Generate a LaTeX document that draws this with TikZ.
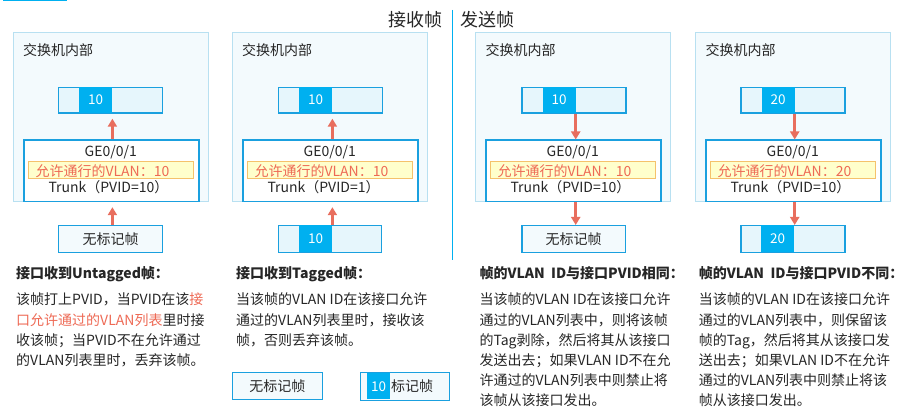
\documentclass[tikz,border=0pt]{standalone}
\usepackage{fontspec}
\setmainfont{Noto Sans CJK SC}
\usetikzlibrary{arrows.meta,calc}
\definecolor{panelfill}{HTML}{F3FAFD}
\definecolor{panelborder}{HTML}{B8E0F1}
\definecolor{blueb}{HTML}{1AA0DF}
\definecolor{framefill}{HTML}{E6F6FC}
\definecolor{tagblue}{HTML}{00B0F0}
\definecolor{arrred}{HTML}{E86E5E}
\definecolor{yelf}{HTML}{FFFFCC}
\definecolor{yelb}{HTML}{F5C26B}
\definecolor{redt}{HTML}{EE6A55}
\definecolor{txtc}{HTML}{262626}
\tikzset{
  panel/.style={draw=panelborder, fill=panelfill, line width=1pt, inner sep=0pt},
  portbox/.style={draw=blueb, fill=white, line width=1.2pt, inner sep=0pt},
  framebox/.style={draw=blueb, fill=framefill, line width=1.2pt, inner sep=0pt},
  lightbox/.style={draw=blueb, fill=panelfill, line width=1.2pt, inner sep=0pt, text=txtc, font=\fontsize{14}{16}\selectfont},
  tagbox/.style={fill=tagblue, inner sep=0pt, text=white, font=\fontsize{13.5}{16}\selectfont},
  yelbox/.style={draw=yelb, fill=yelf, line width=1pt, inner sep=0pt},
  arr/.style={draw=arrred, line width=2.6pt, -{Triangle[length=8pt,width=9pt]}},
  txt/.style={inner sep=0pt, text=txtc, font=\fontsize{14}{16}\selectfont},
  redtxt/.style={inner sep=0pt, text=redt, font=\fontsize{14}{16}\selectfont},
  hdr/.style={inner sep=0pt, text=txtc, font=\fontsize{14}{16}\selectfont\bfseries},
  bigtxt/.style={inner sep=0pt, text=txtc, font=\fontsize{18}{20}\selectfont},
}
\newcommand\mypanel[7]{%
  \node[panel, minimum width=195pt, minimum height=169pt, anchor=north west] (outer#1) at (#2,32) {};
  \node[txt, anchor=base west] (ttl#1) at (#2+10,56) {交换机内部};
  \node[framebox, minimum width=104pt, minimum height=25.5pt, anchor=north west] (fr#1) at (#3,87) {};
  \node[tagbox, minimum width=33pt, minimum height=25.5pt, anchor=north west] (tg#1) at (#3+21,87) {#5};
  \node[portbox, minimum width=175pt, minimum height=61.5pt, anchor=north west] (pt#1) at (#4,139.5) {};
  \node[txt, anchor=base] (ge#1) at (#4+87.5,156.5) {GE0/0/1};
  \node[yelbox, minimum width=164.5pt, minimum height=17pt, anchor=north west] (yl#1) at (#4+5,161) {};
  \node[redtxt, anchor=base west] (vl#1) at (#4+12,176.5) {允许通行的VLAN：#6};
  \node[txt, anchor=base west] (tr#1) at (#4+25,193) {Trunk（PVID=#7）};
}
\begin{document}
\begin{tikzpicture}[x=1pt,y=-1pt]
\useasboundingbox (0,0) rectangle (920,419);
\fill[white] (0,0) rectangle (920,419);
\draw[tagblue, line width=1.5pt] (3,0.5) -- (67,0.5);

% headings and divider
\node[bigtxt, anchor=base east] (recv) at (443,26.5) {接收帧};
\node[bigtxt, anchor=base west] (send) at (460.5,26.5) {发送帧};
\coordinate (divtop) at (452.5,10);
\coordinate (divbot) at (452.5,260);
\draw[tagblue, line width=1.2pt] (divtop) -- (divbot);

% panels
\mypanel{1}{13}{58}{23.3}{10}{10}{10}
\mypanel{2}{232}{278}{242.3}{10}{10}{1}
\mypanel{3}{475.3}{521.3}{485.3}{10}{10}{10}
\mypanel{4}{695.3}{740.3}{705.3}{20}{20}{10}

% bottom frames
\node[lightbox, minimum width=104pt, minimum height=26.7pt, anchor=north west] (bf1) at (58,225) {无标记帧};
\node[framebox, minimum width=103pt, minimum height=26.7pt, anchor=north west] (bf2) at (278,225) {};
\node[tagbox, minimum width=33pt, minimum height=26.7pt, anchor=north west] (bt2) at (299,225) {10};
\node[lightbox, minimum width=103.5pt, minimum height=26.7pt, anchor=north west] (bf3) at (521.3,225) {无标记帧};
\node[framebox, minimum width=104pt, minimum height=26.7pt, anchor=north west] (bf4) at (740.3,225) {};
\node[tagbox, minimum width=33pt, minimum height=26.7pt, anchor=north west] (bt4) at (761,225) {20};

% arrows
\draw[arr, shorten >=5pt] (pt1.north -| tg1.east) -- (fr1.south -| tg1.east);
\draw[arr, shorten >=5pt] (bf1.north -| tg1.east) -- (pt1.south -| tg1.east);
\draw[arr, shorten >=5pt] (pt2.north -| tg2.east) -- (fr2.south -| tg2.east);
\draw[arr, shorten >=5pt] (bf2.north -| tg2.east) -- (pt2.south -| tg2.east);
\draw[arr] (fr3.south -| tg3.east) -- (pt3.north -| tg3.east);
\draw[arr] (pt3.south -| tg3.east) -- (bf3.north -| tg3.east);
\draw[arr] (fr4.south -| tg4.east) -- (pt4.north -| tg4.east);
\draw[arr] (pt4.south -| tg4.east) -- (bf4.north -| tg4.east);

% headers
\node[hdr, anchor=base west] (h1) at (16,278.5) {接口收到Untagged帧：};
\node[hdr, anchor=base west] (h2) at (236,278.5) {接口收到Tagged帧：};
\node[hdr, anchor=base west] (h3) at (479.3,278.5) {帧的VLAN\ \ ID与接口PVID相同：};
\node[hdr, anchor=base west] (h4) at (698.7,278.5) {帧的VLAN\ \ ID与接口PVID不同：};

% body texts
\foreach \ln [count=\i] in {{该帧打上PVID，当PVID在该\textcolor{redt}{接}},{\textcolor{redt}{口允许通过的VLAN列表}里时接},{收该帧；当PVID不在允许通过},{的VLAN列表里时，丢弃该帧。}}
  \node[txt, anchor=base west] (ba\i) at ({16},{305+20*(\i-1)}) {\ln};
\foreach \ln [count=\i] in {{当该帧的VLAN ID在该接口允许},{通过的VLAN列表里时，接收该},{帧，否则丢弃该帧。}}
  \node[txt, anchor=base west] (bb\i) at ({236},{305+20*(\i-1)}) {\ln};
\foreach \ln [count=\i] in {{当该帧的VLAN ID在该接口允许},{通过的VLAN列表中，则将该帧},{的Tag剥除，然后将其从该接口},{发送出去；如果VLAN ID不在允},{许通过的VLAN列表中则禁止将},{该帧从该接口发出。}}
  \node[txt, anchor=base west] (bc\i) at ({479.3},{305+20*(\i-1)}) {\ln};
\foreach \ln [count=\i] in {{当该帧的VLAN ID在该接口允许},{通过的VLAN列表中，则保留该},{帧的Tag，然后将其从该接口发},{送出去；如果VLAN ID不在允许},{通过的VLAN列表中则禁止将该},{帧从该接口发出。}}
  \node[txt, anchor=base west] (bd\i) at ({698.7},{305+20*(\i-1)}) {\ln};

% legend
\node[lightbox, minimum width=89.5pt, minimum height=27.5pt, anchor=north west] (lg1) at (232,371.7) {无标记帧};
\node[lightbox, minimum width=89pt, minimum height=28pt, anchor=north west] (lg2) at (360,372) {};
\node[tagbox, minimum width=23pt, minimum height=26pt, anchor=north west] (lgt) at (367,373) {10};
\node[txt, anchor=west] (lgx) at (391,386) {标记帧};
\end{tikzpicture}
\end{document}
